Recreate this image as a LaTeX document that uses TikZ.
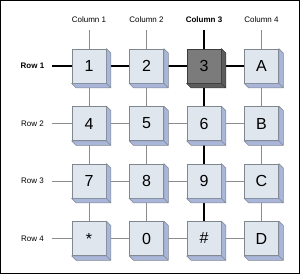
\documentclass[tikz,border=0pt]{standalone}
\usepackage{fontspec}
\setmainfont{Liberation Sans}
\usetikzlibrary{backgrounds}
\definecolor{keyface}{HTML}{DFE6EE}
\definecolor{keyside}{HTML}{A9B5D9}
\definecolor{keyedge}{HTML}{7F8790}
\definecolor{keydarkface}{HTML}{7B7B7B}
\definecolor{keydarkside}{HTML}{5C5C5C}
\definecolor{keydarkedge}{HTML}{3A3A3A}
\definecolor{wiregray}{HTML}{8C8C8C}
\tikzset{
  key/.style={draw, line width=0.8pt, minimum size=34pt, inner sep=0pt,
    font=\fontsize{16}{16}\selectfont},
  lbl/.style={font=\fontsize{8}{9}\selectfont, inner sep=2pt},
  wire/.style={draw=wiregray, line width=0.8pt},
  hot/.style={draw=black, line width=1.5pt}
}
\begin{document}
\begin{tikzpicture}[x=1pt, y=-1pt]
\useasboundingbox (0,0) rectangle (300,274);

% Etiquetes
\foreach \c/\x in {1/89,2/146.5,3/204,4/261.5}
  \node[lbl] (c\c) at (\x,20) {\ifnum\c=3 \bfseries\fi Column \c};
\foreach \r/\y in {1/66,2/123.5,3/181,4/238.5}
  \node[lbl] (r\r) at (32.5,\y) {\ifnum\r=1 \bfseries\fi Row \r};

% Tecles
\foreach \t [count=\n from 0] in {1,2,3,A,4,5,6,B,7,8,9,C,*,0,\#,D} {
  \pgfmathtruncatemacro\r{div(\n,4)+1}
  \pgfmathtruncatemacro\c{mod(\n,4)+1}
  \ifnum\n=2
    \colorlet{kf}{keydarkface}\colorlet{ks}{keydarkside}\colorlet{ke}{keydarkedge}
  \else
    \colorlet{kf}{keyface}\colorlet{ks}{keyside}\colorlet{ke}{keyedge}
  \fi
  \node[key, fill=kf, draw=ke] (k\r\c) at (c\c |- r\r) {\t};
  \filldraw[
      fill=ks,
      draw=ke,
      line width=0.6pt,
      line join=round
  ] (k\r\c.north east) -- ++(4.5,4.5)
    -- ([shift={(4.5,4.5)}]k\r\c.south east)
    -- ([shift={(4.5,4.5)}]k\r\c.south west)
    -- (k\r\c.south west) -- (k\r\c.south east) -- cycle
    (k\r\c.south east) -- ++(4.5,4.5);
}

% Fils
\begin{scope}[on background layer]
  \foreach \r in {2,3,4}
    \draw[wire, shorten <=6pt] (r\r) -- (k\r4.center);
  \draw[hot, shorten <=6pt] (r1) -- (k14.center);
  \foreach \c in {1,2,4}
    \draw[wire, shorten <=5pt] (c\c) -- (k4\c.center);
  \draw[hot, shorten <=5pt] (c3) -- (k43.center);
\end{scope}

% Marc
\draw[line width=1pt] (0.5,0.5) rectangle (299.5,273.5);

\end{tikzpicture}
\end{document}
